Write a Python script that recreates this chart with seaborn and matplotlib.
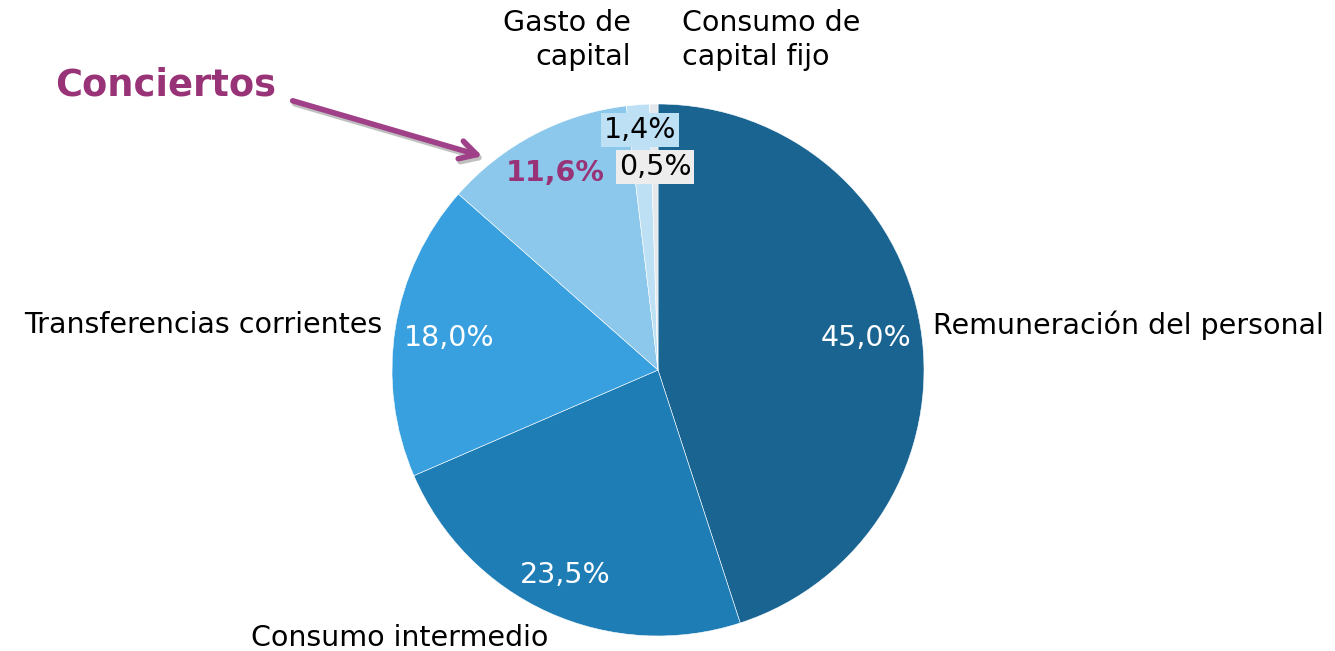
import matplotlib
matplotlib.use("Agg")
import matplotlib.pyplot as plt
import seaborn as sns

categories = ["Remuneración del personal", "Consumo intermedio", "Transferencias corrientes",
              "Conciertos", "Gasto de capital", "Consumo de capital fijo"]
values = [45.0, 23.5, 18.0, 11.6, 1.4, 0.5]
pct_labels = ["45,0%", "23,5%", "18,0%", "11,6%", "1,4%", "0,5%"]
colors = ["#1a6492", "#1f7db6", "#38a0de", "#8bc8ec", "#bde0f5", "#e4e8ec"]

sns.set_theme(style="white")
plt.rcParams['font.family'] = ['DejaVu Sans']

W, H = 1335, 651
fig = plt.figure(figsize=(W / 100, H / 100), dpi=100)
cx, cy, R = 658, 370, 266
ax = fig.add_axes([(cx - R) / W, (H - cy - R) / H, 2 * R / W, 2 * R / H])
palette = sns.color_palette(colors)
ax.pie(values, colors=palette, startangle=90, counterclock=False, radius=1,
       wedgeprops=dict(edgecolor="white", linewidth=0.4))
ax.set_xlim(-1, 1)
ax.set_ylim(-1, 1)
ax.set_aspect("equal")
ax.axis("off")

def d(px, py):
    return ((px - cx) / R, (cy - py) / R)

fs = 20.5
purple = "#993377"
# percentage labels
ax.text(*d(866, 338), pct_labels[0], color="white", fontsize=fs, ha="center", va="center")
ax.text(*d(565, 575), pct_labels[1], color="white", fontsize=fs, ha="center", va="center")
ax.text(*d(449, 338), pct_labels[2], color="white", fontsize=fs, ha="center", va="center")
ax.text(*d(555, 173), pct_labels[3], color=purple, fontsize=fs, fontweight="bold", ha="center", va="center")
ax.text(*d(640, 130), pct_labels[4], color="black", fontsize=fs, ha="center", va="center",
        bbox=dict(boxstyle="square,pad=0.1", fc="#bde0f5", ec="none"))
ax.text(*d(655, 167), pct_labels[5], color="black", fontsize=fs, ha="center", va="center",
        bbox=dict(boxstyle="square,pad=0.1", fc="#ededed", ec="none"))

# category labels
kw = dict(fontsize=fs, color="black", clip_on=False)
ax.text(*d(933, 325), categories[0], ha="left", va="center", **kw)
ax.text(*d(400, 638), categories[1], ha="center", va="center", **kw)
ax.text(*d(382, 325), categories[2], ha="right", va="center", **kw)
ax.text(*d(631, 40), "Gasto de\ncapital", ha="right", va="center", multialignment="right",
        linespacing=1.25, **kw)
ax.text(*d(682, 40), "Consumo de\ncapital fijo", ha="left", va="center", multialignment="left",
        linespacing=1.25, **kw)

ax.text(*d(55, 85), categories[3], ha="left", va="center", fontsize=26.5, fontweight="bold",
        color=purple, clip_on=False)

# arrow with shadow
start, end = d(290, 100), d(485, 157)
style = "->,head_length=1.0,head_width=0.55"
ax.annotate("", xy=(end[0] + 2 / R, end[1] - 3 / R), xytext=(start[0] + 2 / R, start[1] - 3 / R),
            arrowprops=dict(arrowstyle=style, color="#c0c0c0", lw=4), annotation_clip=False)
ax.annotate("", xy=end, xytext=start,
            arrowprops=dict(arrowstyle=style, color="#a04088", lw=4), annotation_clip=False)

fig.savefig("out.png", dpi=100)
